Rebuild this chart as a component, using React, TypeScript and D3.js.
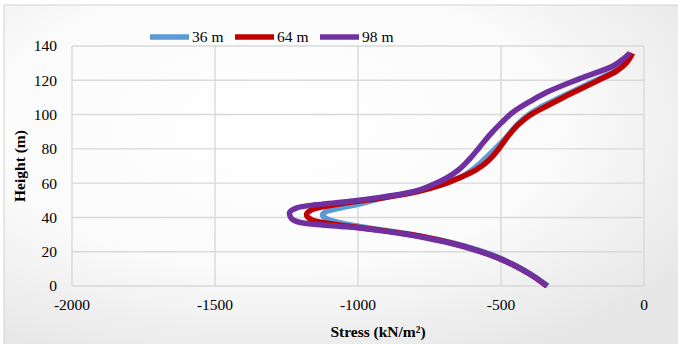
import React from "react";
import * as d3 from "d3";

// Stress (kN/m²) against height (m) for three wall lengths
const heights36 = [0, 7, 12.5, 17.2, 20.8, 25.8, 29.8, 32.8, 35.2, 37.4, 39.4, 41.5, 43.6, 45.6, 47.6, 51, 54.8, 57.5, 61, 64.5, 68.5, 72, 76, 81, 87, 93, 98.5, 104.5, 110.2, 119.7, 125.6, 130.6, 135.7];
const stress36 = [-336, -396, -456, -516, -576, -686, -803, -920, -1010, -1075, -1112, -1124, -1108, -1060, -1000, -923, -807, -740, -680, -630, -595, -570, -545, -515, -480, -450, -415, -360, -290, -172, -100, -63, -42];

const heights64 = [0, 7, 12.5, 17, 20.5, 25.7, 29.7, 32.6, 35, 37, 38.8, 41.5, 44.3, 46.3, 48.5, 51.2, 54.5, 57, 60, 63.5, 67.5, 71.5, 76.5, 82.5, 88.5, 94, 99.5, 105, 110, 119.5, 125.5, 130.5, 135.7];
const stress64 = [-340, -400, -460, -520, -580, -690, -807, -923, -1040, -1125, -1164, -1180, -1164, -1120, -1040, -923, -807, -748, -690, -640, -590, -555, -525, -497, -470, -440, -400, -340, -282, -165, -95, -60, -40];

const heights98 = [0, 7, 12.5, 17, 20.5, 25.5, 29.5, 32.3, 34.5, 36, 37.2, 39.6, 42.4, 45.6, 47.2, 49.2, 51.7, 55, 59, 63, 67.5, 74, 81, 88, 95, 101.5, 107.5, 113, 121, 128.5, 132.5, 136];
const stress98 = [-340, -400, -460, -520, -580, -690, -807, -923, -1040, -1156, -1205, -1234, -1240, -1214, -1156, -1040, -923, -807, -740, -690, -650, -610, -575, -540, -500, -457, -400, -340, -224, -107, -72, -49];

const seriesNames = ["36 m", "64 m", "98 m"];
const seriesColors = ["#5b9bd5", "#c00000", "#7030a0"];

const xTicks = [-2000, -1500, -1000, -500, 0];
const yTicks = [0, 20, 40, 60, 80, 100, 120, 140];

const W = 678;
const H = 344;
const plot = { left: 72, right: 644, top: 46, bottom: 286 };
const font = "Liberation Serif, Times New Roman, serif";

export default function App() {
  const x = d3.scaleLinear().domain([-2000, 0]).range([plot.left, plot.right]);
  const y = d3.scaleLinear().domain([0, 140]).range([plot.bottom, plot.top]);

  const series = [
    { name: seriesNames[0], color: seriesColors[0], h: heights36, s: stress36 },
    { name: seriesNames[1], color: seriesColors[1], h: heights64, s: stress64 },
    { name: seriesNames[2], color: seriesColors[2], h: heights98, s: stress98 },
  ];

  // height rises monotonically along each profile, so interpolate stress as a function of height
  const line = d3
    .line<[number, number]>()
    .x((d) => x(d[0]))
    .y((d) => y(d[1]))
    .curve(d3.curveMonotoneY);

  const legendX = [150, 235, 320];
  const textStyle = { fontFamily: font };

  return (
    <svg width={W} height={H} style={{ position: "absolute", left: 0, top: 0 }}>
      <defs>
        <radialGradient id="bg" cx="40%" cy="35%" r="75%">
          <stop offset="0%" stopColor="#ffffff" />
          <stop offset="55%" stopColor="#fbfbfb" />
          <stop offset="100%" stopColor="#e6e6e6" />
        </radialGradient>
      </defs>
      <rect x={0} y={0} width={W} height={H} fill="#ffffff" />
      <rect x={4} y={5} width={W} height={H} fill="url(#bg)" stroke="#d9d9d9" strokeWidth={1.2} />

      {/* grid */}
      {xTicks.map((t) => (
        <line key={"gx" + t} x1={x(t)} x2={x(t)} y1={plot.top} y2={plot.bottom} stroke="#d9d9d9" strokeWidth={1.4} />
      ))}
      {yTicks.map((t) => (
        <line key={"gy" + t} x1={plot.left} x2={plot.right} y1={y(t)} y2={y(t)} stroke="#d9d9d9" strokeWidth={1.4} />
      ))}

      {/* tick labels */}
      {yTicks.map((t) => (
        <text key={"ty" + t} x={57} y={y(t)} dy="0.35em" textAnchor="end" style={textStyle} fontSize={15.5} fill="#000">
          {t}
        </text>
      ))}
      {xTicks.map((t) => (
        <text key={"tx" + t} x={x(t)} y={310} textAnchor="middle" style={textStyle} fontSize={15.5} fill="#000">
          {t}
        </text>
      ))}

      {/* axis titles */}
      <text x={378} y={337} textAnchor="middle" style={textStyle} fontSize={15.5} fontWeight="bold" fill="#000">
        Stress (kN/m²)
      </text>
      <text
        transform={`translate(25,${166}) rotate(-90)`}
        textAnchor="middle"
        style={textStyle}
        fontSize={15.5}
        fontWeight="bold"
        fill="#000"
      >
        Height (m)
      </text>

      {/* series */}
      {series.map((sr) => (
        <path
          key={sr.name}
          d={line(sr.s.map((v, i) => [v, sr.h[i]] as [number, number])) || ""}
          fill="none"
          stroke={sr.color}
          strokeWidth={5.5}
          strokeLinejoin="round"
        />
      ))}

      {/* legend */}
      {series.map((sr, i) => (
        <g key={"lg" + sr.name}>
          <line x1={legendX[i]} x2={legendX[i] + 39} y1={37} y2={37} stroke={sr.color} strokeWidth={5.5} />
          <text x={legendX[i] + 42} y={37} dy="0.35em" style={textStyle} fontSize={15.5} fill="#000">
            {sr.name}
          </text>
        </g>
      ))}
    </svg>
  );
}
